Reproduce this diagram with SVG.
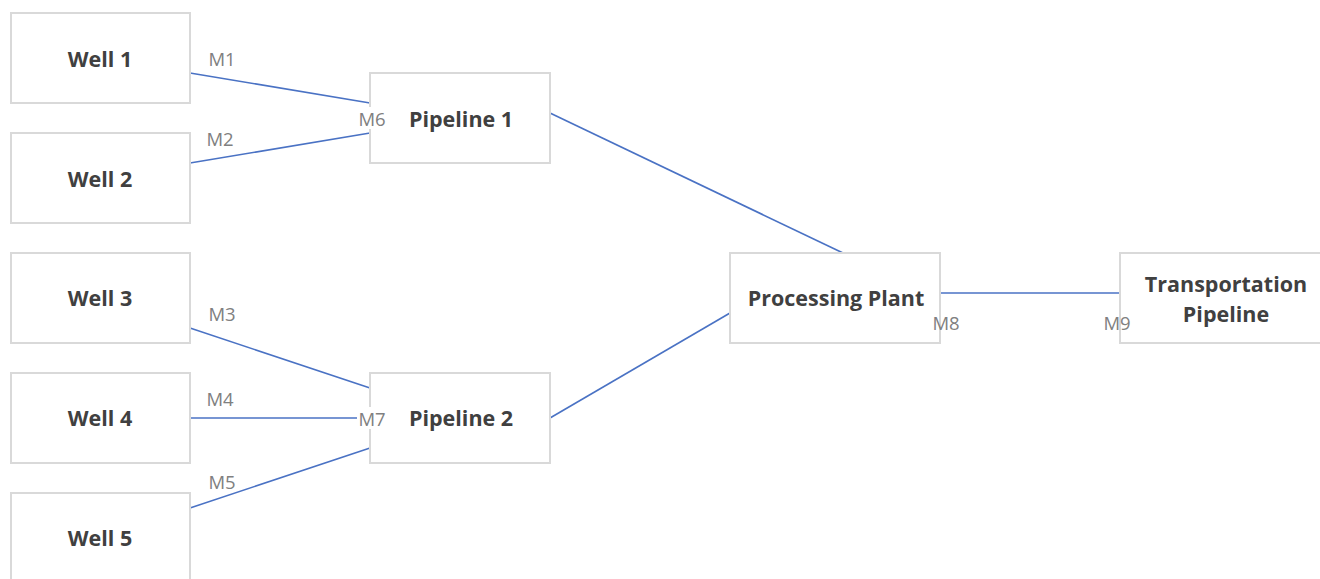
<svg xmlns="http://www.w3.org/2000/svg" width="1320" height="579" viewBox="0 0 1320 579">
<style>
.box{fill:#fff;stroke:#d9d9d9;stroke-width:2}
.t{font-family:"Open Sans","Liberation Sans",sans-serif;font-weight:bold;font-size:21.5px;fill:#404040;text-anchor:middle;dominant-baseline:central}
.m{font-family:"Open Sans","Liberation Sans",sans-serif;font-size:18.5px;fill:#808080;text-anchor:middle;dominant-baseline:central}
.c{stroke:#4a72c4;stroke-width:1.6;fill:none}
</style>
<rect width="1320" height="579" fill="#fff"/>
<g id="connectors">
<line class="c" x1="190" y1="73" x2="370" y2="103"/>
<line class="c" x1="190" y1="163" x2="370" y2="133"/>
<line class="c" x1="190" y1="328" x2="370" y2="388"/>
<line class="c" x1="190" y1="418" x2="358" y2="418"/>
<line class="c" x1="190" y1="508" x2="370" y2="448"/>
<line class="c" x1="550" y1="113" x2="843" y2="253"/>
<line class="c" x1="550" y1="418" x2="730" y2="313"/>
<line class="c" x1="940" y1="293" x2="1120" y2="293"/>
</g>
<g id="well1"><rect class="box" x="11" y="13" width="179" height="90"/><text class="t" x="100" y="58">Well 1</text></g>
<g id="well2"><rect class="box" x="11" y="133" width="179" height="90"/><text class="t" x="100" y="178">Well 2</text></g>
<g id="well3"><rect class="box" x="11" y="253" width="179" height="90"/><text class="t" x="100" y="297">Well 3</text></g>
<g id="well4"><rect class="box" x="11" y="373" width="179" height="90"/><text class="t" x="100" y="417">Well 4</text></g>
<g id="well5"><rect class="box" x="11" y="493" width="179" height="90"/><text class="t" x="100" y="537">Well 5</text></g>
<g id="pipeline1"><rect class="box" x="370" y="73" width="180" height="90"/><text class="t" x="461" y="118">Pipeline 1</text></g>
<g id="pipeline2"><rect class="box" x="370" y="373" width="180" height="90"/><text class="t" x="461" y="417">Pipeline 2</text></g>
<g id="plant"><rect class="box" x="730" y="253" width="210" height="90"/><text class="t" x="836" y="297">Processing Plant</text></g>
<g id="transport"><rect class="box" x="1120" y="253" width="210" height="90"/><text class="t" x="1226" y="283">Transportation</text><text class="t" x="1226" y="313">Pipeline</text></g>
<g id="labels">
<text class="m" x="222" y="58">M1</text>
<text class="m" x="220" y="138">M2</text>
<text class="m" x="222" y="313">M3</text>
<text class="m" x="220" y="398">M4</text>
<text class="m" x="222" y="481">M5</text>
<rect x="357" y="107" width="31" height="22" fill="#fff"/>
<text class="m" x="372" y="118">M6</text>
<rect x="357" y="407" width="31" height="22" fill="#fff"/>
<text class="m" x="372" y="418">M7</text>
<text class="m" x="946" y="322">M8</text>
<text class="m" x="1117" y="322">M9</text>
</g>
</svg>
